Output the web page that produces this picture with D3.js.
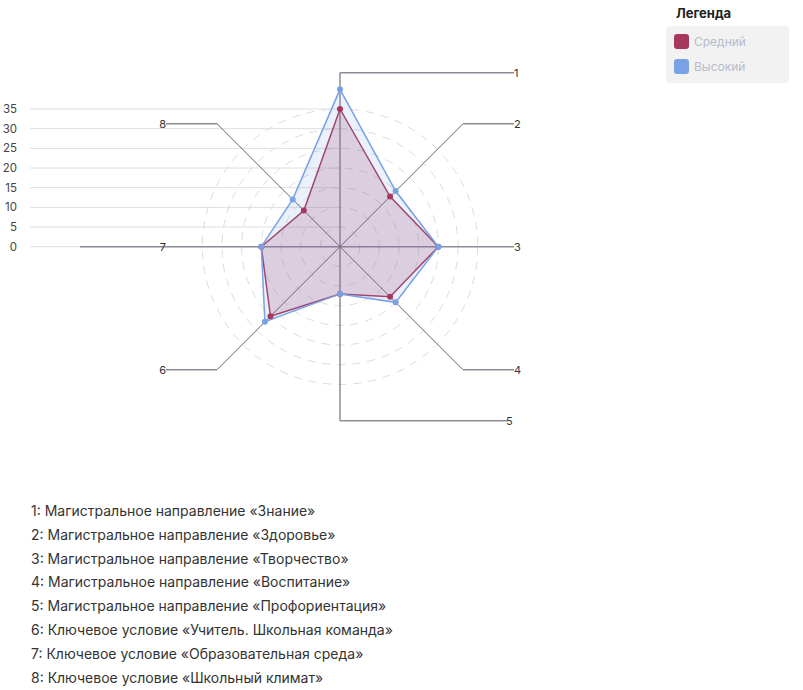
<!DOCTYPE html>
<html>
<head>
<meta charset="utf-8">
<script src="https://cdn.jsdelivr.net/npm/d3@7"></script>
<style>
  body { margin: 0; background: #fff; font-family: Inter, "Noto Sans", sans-serif; }
</style>
</head>
<body>
<div id="chart"></div>
<script>
// axis names (numbered) and values per series
const axes = ["1", "2", "3", "4", "5", "6", "7", "8"];
const axisNames = [
  "Магистральное направление «Знание»",
  "Магистральное направление «Здоровье»",
  "Магистральное направление «Творчество»",
  "Магистральное направление «Воспитание»",
  "Магистральное направление «Профориентация»",
  "Ключевое условие «Учитель. Школьная команда»",
  "Ключевое условие «Образовательная среда»",
  "Ключевое условие «Школьный климат»"
];
const seriesNames = ["Средний", "Высокий"];
const srednij = [35, 18, 25, 18, 12, 25, 20, 13];
const vysokij = [40, 20, 25, 20, 12, 27, 20, 17];
const colors = ["#a6375e", "#78a1e6"];
const yTicks = [0, 5, 10, 15, 20, 25, 30, 35];

const W = 803, H = 690;
const cx = 340, cy = 246.7;
const outerR = 174;

const svg = d3.select("#chart").append("svg")
  .attr("width", W).attr("height", H);

// radial scale
const r = d3.scaleLinear().domain([0, 35]).range([0, 137.7]);

// left value axis with horizontal grid
const yScale = d3.scaleLinear().domain([0, 35]).range([cy, cy - r(35)]);
svg.append("g").selectAll("line")
  .data(yTicks).enter().append("line")
  .attr("x1", 30).attr("x2", cx)
  .attr("y1", d => yScale(d)).attr("y2", d => yScale(d))
  .attr("stroke", "#dedede").attr("stroke-width", 1);
svg.append("g").selectAll("text")
  .data(yTicks).enter().append("text")
  .attr("x", 17).attr("y", d => yScale(d) + 4)
  .attr("text-anchor", "end")
  .attr("font-size", 11.5).attr("fill", "#444")
  .text(d => d);

// dashed rings
svg.append("g").selectAll("circle")
  .data(yTicks.filter(d => d > 0)).enter().append("circle")
  .attr("cx", cx).attr("cy", cy).attr("r", d => r(d))
  .attr("fill", "none").attr("stroke", "#dcdcdc")
  .attr("stroke-dasharray", "8,7").attr("stroke-width", 1);

// axis angles: clockwise from top
const angle = i => -Math.PI / 2 + i * Math.PI / 4;
const pt = (i, rad) => [cx + rad * Math.cos(angle(i)), cy + rad * Math.sin(angle(i))];

const axisG = svg.append("g");
axes.forEach((a, i) => {
  const diag = i % 2 === 1;
  const end = pt(i, outerR);
  let lx;
  if (i === 6) lx = 80;
  else if (i === 4) lx = 507;
  else if (end[0] >= cx) lx = 514;
  else lx = 166;
  axisG.append("line")
    .attr("x1", cx).attr("y1", cy).attr("x2", end[0]).attr("y2", end[1])
    .attr("stroke", diag ? "#222" : "#8c8c96")
    .attr("stroke-width", diag ? 0.7 : 1.5);
  axisG.append("line")
    .attr("x1", end[0]).attr("y1", end[1]).attr("x2", lx).attr("y2", end[1])
    .attr("stroke", "#8c8c96").attr("stroke-width", 1.5);
  const right = end[0] >= cx;
  axisG.append("text")
    .attr("x", right ? (i === 4 ? 506 : 514) : 166)
    .attr("y", end[1] + 4)
    .attr("text-anchor", right ? "start" : "end")
    .attr("font-size", 11).attr("fill", "#333")
    .text(a);
});

// series polygons
const line = d3.line()
  .x((d, i) => pt(i, r(d))[0])
  .y((d, i) => pt(i, r(d))[1])
  .curve(d3.curveLinearClosed);

const allSeries = [srednij, vysokij];
const fillOp = [0.2, 0.15];
allSeries.forEach((vals, s) => {
  svg.append("path").datum(vals)
    .attr("d", line)
    .attr("fill", colors[s]).attr("fill-opacity", fillOp[s])
    .attr("stroke", colors[s]).attr("stroke-width", 1.5);
});
allSeries.forEach((vals, s) => {
  svg.append("g").selectAll("circle")
    .data(vals).enter().append("circle")
    .attr("cx", (d, i) => pt(i, r(d))[0])
    .attr("cy", (d, i) => pt(i, r(d))[1])
    .attr("r", 3).attr("fill", colors[s]);
});

// legend
const leg = svg.append("g");
leg.append("text").attr("x", 676).attr("y", 18)
  .attr("font-size", 13).attr("font-weight", "bold").attr("fill", "#222")
  .text("Легенда");
leg.append("rect").attr("x", 666).attr("y", 26).attr("width", 123).attr("height", 57)
  .attr("rx", 3).attr("fill", "#f2f2f2");
seriesNames.forEach((n, i) => {
  leg.append("rect").attr("x", 674).attr("y", 34 + i * 25).attr("width", 15).attr("height", 15)
    .attr("rx", 3).attr("fill", colors[i]);
  leg.append("text").attr("x", 694).attr("y", 46 + i * 25)
    .attr("font-size", 12).attr("fill", "#b6bbcc").text(n);
});

// axis description list
svg.append("g").selectAll("text")
  .data(axisNames).enter().append("text")
  .attr("x", 31).attr("y", (d, i) => 516 + i * 23.8)
  .attr("font-size", 14).attr("fill", "#333")
  .text((d, i) => axes[i] + ": " + d);
</script>
</body>
</html>
